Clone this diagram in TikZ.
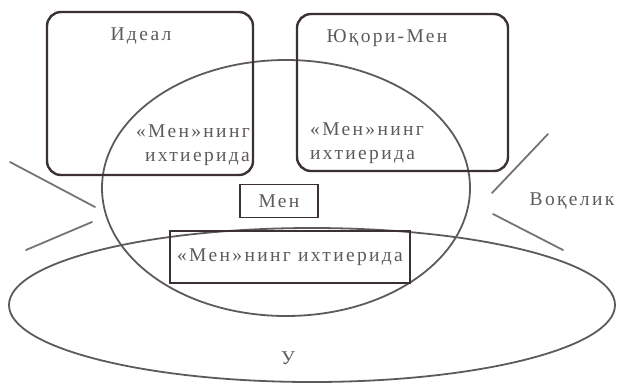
\documentclass[tikz,border=0pt]{standalone}
\usepackage{fontspec}
\setmainfont{Liberation Serif}[LetterSpace=12]
\usepackage{tikz}
\usetikzlibrary{positioning}
\usepackage{xcolor}
\definecolor{ink}{HTML}{3A3035}
\definecolor{pale}{HTML}{5E5A5C}
\tikzset{
  part/.style={draw=ink,line width=2.4pt,rounded corners=14pt},
  txt/.style={text=pale,font=\fontsize{19.5}{24}\selectfont,inner sep=0pt},
  ring/.style={draw=pale,line width=1.8pt},
  ray/.style={draw=pale!85,line width=1.8pt,line cap=round}
}
\begin{document}
\begin{tikzpicture}[x=1pt,y=-1pt]
\useasboundingbox (0,0) rectangle (618,389);
% ellipses
\draw[ring] (286,188) ellipse [x radius=184,y radius=128];
\draw[ring] (312,305) ellipse [x radius=303,y radius=77];
% the two upper boxes
\draw[part] (47,12) rectangle (253,175);
\draw[part] (297,14) rectangle (508,171);
\node[txt] (ideal) at (141,36) {Идеал};
\node[txt] (super) at (387,38) {Юқори-Мен};
\node[txt,align=right,anchor=east] (ownl) at (250,145) {«Мен»нинг\\ихтиерида};
\node[txt,align=left,anchor=west] (ownr) at (310,143) {«Мен»нинг\\ихтиерида};
% middle
\node[txt,draw=ink,line width=1.8pt,minimum width=78pt,minimum height=33pt] (ego) at (279,201) {Мен};
\node[txt,draw=ink,line width=2.2pt,minimum width=240pt,minimum height=52pt] (will) at (290,257) {«Мен»нинг ихтиерида};
\node[txt] (id) at (288,358) {У};
\node[txt] (real) at (572,201) {Воқелик};
% rays
\coordinate (l1a) at (10,162); \coordinate (l1b) at (95,207);
\coordinate (l2a) at (26,250); \coordinate (l2b) at (92,222);
\coordinate (r1a) at (548,134); \coordinate (r1b) at (492,193);
\coordinate (r2a) at (493,214); \coordinate (r2b) at (563,250);
\draw[ray] (l1a) -- (l1b);
\draw[ray] (l2a) -- (l2b);
\draw[ray] (r1a) -- (r1b);
\draw[ray] (r2a) -- (r2b);
\end{tikzpicture}
\end{document}
